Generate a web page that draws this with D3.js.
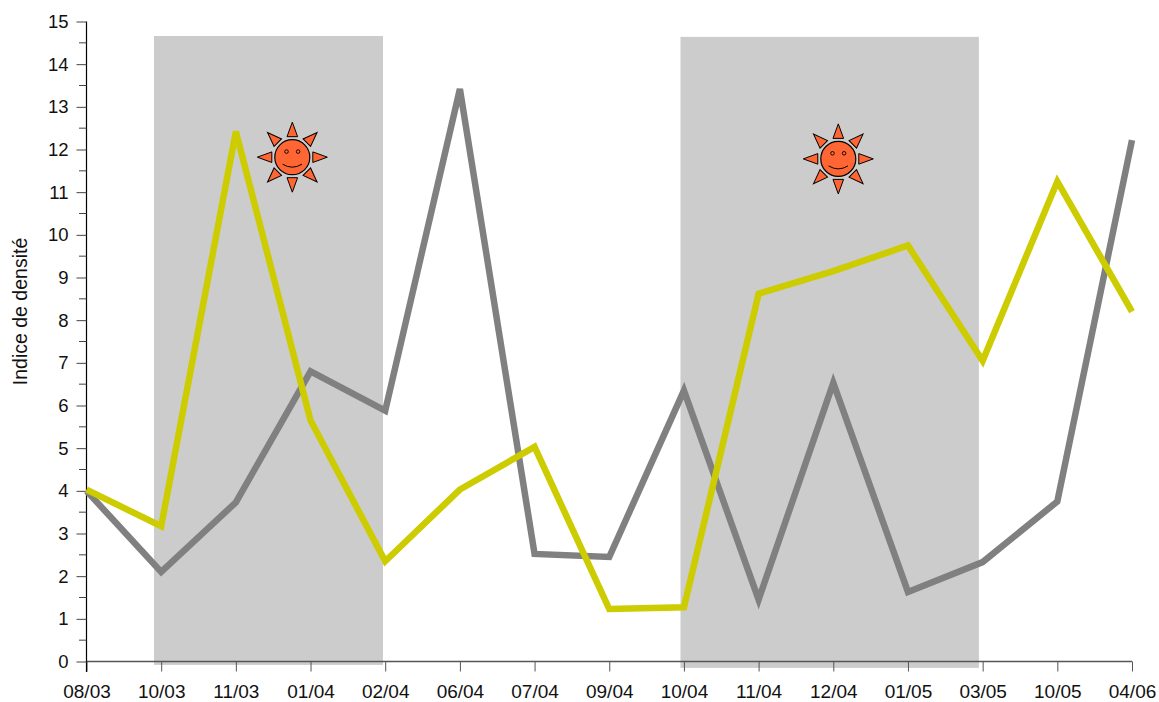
<!DOCTYPE html>
<html><head><meta charset="utf-8">
<script src="https://cdn.jsdelivr.net/npm/d3@7"></script>
<style>html,body{margin:0;padding:0;background:#fff}svg{display:block}text{font-family:"Liberation Sans",Arial,sans-serif;fill:#111}</style>
</head><body><svg width="1159" height="702"></svg>
<script>
const dates=["08/03","10/03","11/03","01/04","02/04","06/04","07/04","09/04","10/04","11/04","12/04","01/05","03/05","10/05","04/06"];
const greySeries=[4.0,2.1,3.73,6.8,5.88,13.42,2.52,2.45,6.35,1.45,6.53,1.63,2.33,3.75,12.22];
const yellowSeries=[4.03,3.17,12.42,5.65,2.35,4.03,5.03,1.23,1.27,8.62,9.15,9.75,7.05,11.25,8.2];
const yTicks=d3.range(0,16);
const yMinor=d3.range(0.5,15,1);
const bands=[{x0:0.904,x1:3.97,top:14.66,bottom:-0.08},{x0:7.954,x1:11.95,top:14.64,bottom:-0.15}];
const suns=[{x:2.756,y:11.82},{x:10.067,y:11.78}];

const svg=d3.select("svg");
const x=d3.scaleLinear().domain([0,14]).range([86.5,1132]);
const y=d3.scaleLinear().domain([0,15]).range([661.5,21.5]);

svg.selectAll(".band").data(bands).join("rect").attr("class","band")
 .attr("x",d=>x(d.x0)).attr("width",d=>x(d.x1)-x(d.x0))
 .attr("y",d=>y(d.top)).attr("height",d=>y(d.bottom)-y(d.top)).attr("fill","#cccccc");

const line=d3.line().x((d,i)=>x(i)).y(d=>y(d));
const ax=d3.axisBottom(x).tickValues(d3.range(0,15)).tickFormat(i=>dates[i]).tickSize(10).tickPadding(13);
const gx=svg.append("g").attr("transform","translate(0,661.5)").call(ax);
gx.select(".domain").attr("d","M86.5,0H1132").attr("stroke","#555").attr("stroke-width",1.3);
gx.selectAll(".tick line").attr("stroke","#555").attr("stroke-width",1);
gx.selectAll("text").attr("font-size",19).attr("fill","#111").attr("font-family","Liberation Sans");
const ay=d3.axisLeft(y).tickValues(yTicks).tickFormat(d3.format("d")).tickSize(10).tickPadding(8);
const gy=svg.append("g").attr("transform","translate(86.5,0)").call(ay);
gy.select(".domain").attr("d","M0,21.5V672").attr("stroke","#000").attr("stroke-width",1.2);
gy.selectAll(".tick line").attr("stroke","#444").attr("stroke-width",1);
gy.selectAll("text").attr("font-size",18.5).attr("fill","#111").attr("font-family","Liberation Sans");
svg.append("g").selectAll("line").data(yMinor).join("line")
 .attr("x1",79).attr("x2",86.5).attr("y1",d=>y(d)).attr("y2",d=>y(d)).attr("stroke","#444");

svg.append("text").attr("transform","translate(27,311.5) rotate(-90)").attr("text-anchor","middle")
 .attr("font-size",19.5).text("Indice de densité");

svg.append("path").attr("d",line(greySeries)).attr("fill","none").attr("stroke","#808080").attr("stroke-width",6.5).attr("stroke-linejoin","miter");
svg.append("path").attr("d",line(yellowSeries)).attr("fill","none").attr("stroke","#cccc00").attr("stroke-width",6.5).attr("stroke-linejoin","miter");

const orange="#ff6633";
suns.forEach(s=>{
 const g=svg.append("g").attr("transform",`translate(${x(s.x)},${y(s.y)})`).attr("stroke","#000").attr("stroke-width",1);
 d3.range(8).forEach(k=>{
  g.append("path").attr("transform",`rotate(${k*45})`)
   .attr("d","M-5.3,-20.5L5.3,-20.5L0,-35Z").attr("fill",orange);
 });
 g.append("circle").attr("r",17.5).attr("fill",orange).attr("stroke-width",1.2);
 [-5.8,5.8].forEach(dx=>g.append("circle").attr("cx",dx).attr("cy",-5.6).attr("r",1.8).attr("fill","none").attr("stroke-width",0.9));
 g.append("path").attr("d","M-9.7,7Q0,13 9.7,7").attr("fill","none").attr("stroke-width",1);
});
</script></body></html>
